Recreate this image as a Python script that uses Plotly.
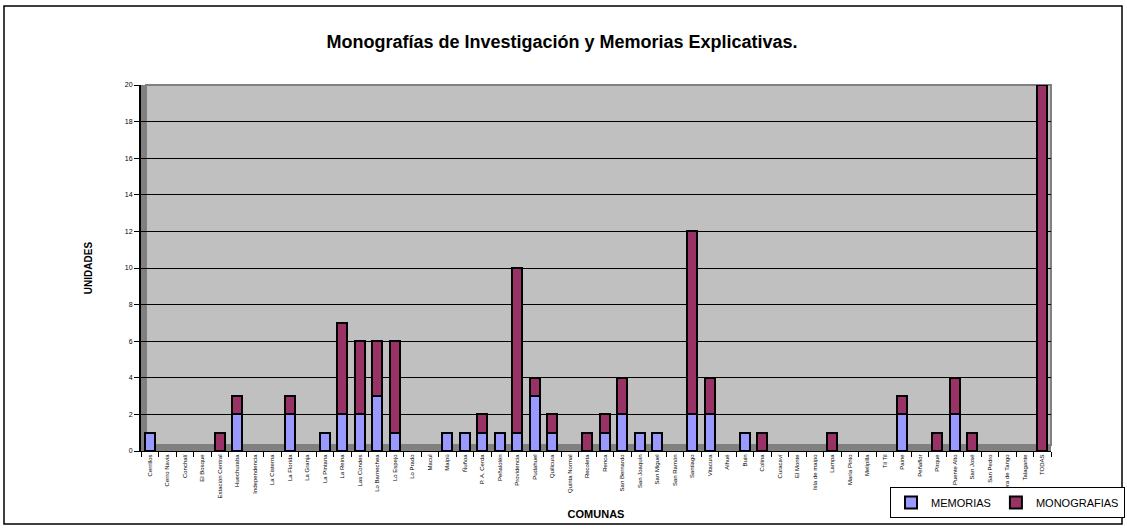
import plotly.graph_objects as go

comunas = ["Cerrillos", "Cerro Navia", "Conchalí", "El Bosque", "Estación Central", "Huechuraba",
           "Independencia", "La Cisterna", "La Florida", "La Granja", "La Pintana", "La Reina",
           "Las Condes", "Lo Barnechea", "Lo Espejo", "Lo Prado", "Macul", "Maipú", "Ñuñoa",
           "P. A. Cerda", "Peñalolén", "Providencia", "Pudahuel", "Quilicura", "Quinta Normal",
           "Recoleta", "Renca", "San Bernardo", "San Joaquín", "San Miguel", "San Ramón",
           "Santiago", "Vitacura", "Alhué", "Buin", "Colina", "Curacaví", "El Monte",
           "Isla de maipo", "Lampa", "María Pinto", "Melipilla", "Til Til", "Paine", "Peñaflor",
           "Pirque", "Puente Alto", "San José", "San Pedro", "Calera de Tango", "Talagante", "TODAS"]

memorias = [1, 0, 0, 0, 0, 2, 0, 0, 2, 0, 1, 2, 2, 3, 1, 0, 0, 1, 1, 1, 1, 1, 3, 1, 0,
            0, 1, 2, 1, 1, 0, 2, 2, 0, 1, 0, 0, 0, 0, 0, 0, 0, 0, 2, 0, 0, 2, 0, 0, 0, 0, 0]
monografias = [0, 0, 0, 0, 1, 1, 0, 0, 1, 0, 0, 5, 4, 3, 5, 0, 0, 0, 0, 1, 0, 9, 1, 1, 0,
               1, 1, 2, 0, 0, 0, 10, 2, 0, 0, 1, 0, 0, 0, 1, 0, 0, 0, 1, 0, 1, 2, 1, 0, 0, 0, 20]

y_ticks = [0, 2, 4, 6, 8, 10, 12, 14, 16, 18, 20]

FONT = "Liberation Sans, Arial, sans-serif"

fig = go.Figure()
fig.add_trace(go.Bar(
    x=comunas, y=[v if v else None for v in memorias], name="MEMORIAS",
    marker=dict(color="#9999FF", line=dict(color="black", width=2)),
))
fig.add_trace(go.Bar(
    x=comunas, y=[v if v else None for v in monografias], name="MONOGRAFIAS",
    marker=dict(color="#993366", line=dict(color="black", width=2)),
))

L, R, T, B = 141, 76, 85, 78
W, H = 1127, 529
pw, ph = W - L - R, H - T - B

def px_x(p):
    return (p - L) / pw

def px_y(p):
    return (H - B - p) / ph

shapes = [
    # outer frame
    dict(type="rect", xref="paper", yref="paper", x0=px_x(4), x1=px_x(1122), y0=px_y(524), y1=px_y(6),
         line=dict(color="black", width=1.5), fillcolor="rgba(0,0,0,0)", layer="below"),
    # left side wall
    dict(type="rect", xref="paper", yref="paper", x0=0, x1=px_x(146), y0=0, y1=1,
         line=dict(width=0), fillcolor="#808080", layer="below"),
    # floor
    dict(type="rect", xref="paper", yref="paper", x0=0, x1=1, y0=0, y1=px_y(445),
         line=dict(width=0), fillcolor="#808080", layer="below"),
    # top / right border of back wall
    dict(type="rect", xref="paper", yref="paper", x0=px_x(146), x1=1, y0=px_y(445), y1=1,
         line=dict(color="#808080", width=2), fillcolor="rgba(0,0,0,0)", layer="below"),
]

fig.update_layout(
    width=W, height=H,
    margin=dict(l=L, r=R, t=T, b=B, autoexpand=False),
    paper_bgcolor="white",
    plot_bgcolor="#C0C0C0",
    barmode="stack",
    bargap=0.45,
    font=dict(family=FONT, color="black"),
    title=dict(text="<b>Monografías de Investigación y Memorias Explicativas.</b>",
               x=px_x(562), xanchor="center", xref="paper", y=1 - 42 / H, yanchor="middle",
               font=dict(size=18, family=FONT, color="black")),
    xaxis=dict(
        type="category", tickangle=-90, tickfont=dict(size=6, family=FONT),
        showline=True, linecolor="black", linewidth=1,
        ticks="outside", ticklen=5, tickcolor="black", tickson="boundaries",
        showgrid=False,
        title=dict(text="<b>COMUNAS</b>", font=dict(size=11, family=FONT), standoff=12),
    ),
    yaxis=dict(
        range=[0, 20], tickvals=y_ticks, ticktext=[str(v) for v in y_ticks],
        tickfont=dict(size=7, family=FONT),
        showline=True, linecolor="black", linewidth=2,
        ticks="outside", ticklen=5, tickcolor="black",
        showgrid=True, gridcolor="black", gridwidth=1, zeroline=False,
        title=dict(text="<b>UNIDADES</b>", font=dict(size=10, family=FONT), standoff=30),
    ),
    legend=dict(
        orientation="h", traceorder="normal",
        x=px_x(1125), xanchor="right", y=px_y(518), yanchor="bottom",
        bgcolor="white", bordercolor="black", borderwidth=1,
        font=dict(size=11, family=FONT), itemwidth=30, tracegroupgap=0,
    ),
    shapes=shapes,
    showlegend=True,
)

fig.write_html("out.html", config={"displayModeBar": False},
               post_script="document.body.style.margin='0';")
